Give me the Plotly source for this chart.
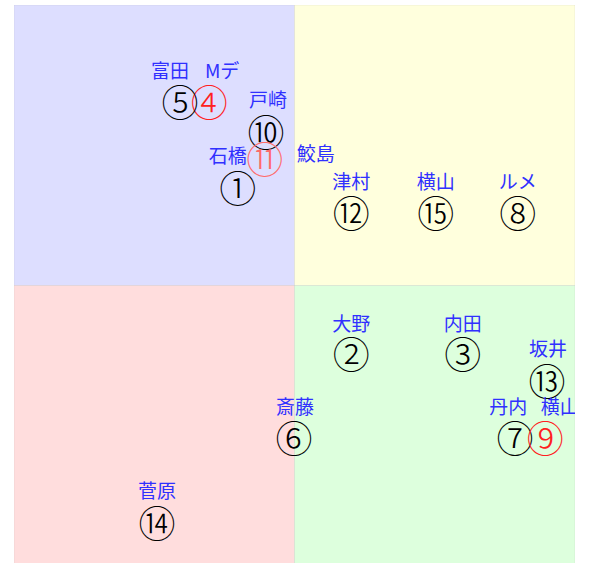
import plotly.graph_objects as go

# 馬番・騎手・位置
numbers = ["①", "②", "③", "④", "⑤", "⑥", "⑦", "⑧", "⑨", "⑩", "⑪", "⑫", "⑬", "⑭", "⑮"]
jockeys = ["石橋", "大野", "内田", "Mデ", "富田", "斎藤", "丹内", "ルメ", "横山", "戸崎", "鮫島", "津村", "坂井", "菅原", "横山"]
pos_x = [39.9, 60.1, 80.0, 34.8, 29.6, 49.9, 89.3, 89.8, 94.7, 44.9, 44.7, 60.1, 95.0, 25.5, 75.2]
pos_y = [66.3, 36.7, 36.7, 81.7, 81.7, 21.8, 21.8, 61.9, 21.8, 76.3, 71.5, 61.9, 31.9, 6.6, 61.9]
label_x = [38.1, 60.1, 80.0, 37.1, 27.8, 50.1, 88.1, 89.8, 97.3, 45.3, 53.8, 60.1, 95.2, 25.5, 75.2]
label_y = [72.6, 42.8, 42.8, 87.9, 87.9, 28.0, 28.0, 68.1, 28.0, 82.6, 73.1, 68.1, 38.2, 12.9, 68.1]
marked = [False, False, False, True, False, False, False, False, True, False, True, False, False, False, False]

num_colors = []
for i, m in enumerate(marked):
    if not m:
        num_colors.append("black")
    elif numbers[i] == "⑪":
        num_colors.append("#ff6a6a")
    else:
        num_colors.append("#ff2020")

fig = go.Figure()

# 4象限の背景
quads = [
    (0, 50, 50, 100, "#dddeff"),
    (50, 100, 50, 100, "#ffffdd"),
    (0, 50, 0, 50, "#ffdddd"),
    (50, 100, 0, 50, "#ddffdd"),
]
for x0, x1, y0, y1, c in quads:
    fig.add_shape(type="rect", x0=x0, x1=x1, y0=y0, y1=y1, fillcolor=c,
                  line=dict(color="rgba(180,180,180,0.35)", width=0.6), layer="below")

fig.add_trace(go.Scatter(
    x=pos_x, y=pos_y, mode="text", text=numbers,
    textfont=dict(family="Noto Sans CJK JP", size=37, color=num_colors, weight=300),
    hoverinfo="skip"
))
fig.add_trace(go.Scatter(
    x=label_x, y=label_y, mode="text", text=jockeys,
    textfont=dict(family="Noto Sans CJK JP", size=19, color="#3030ff"),
    hoverinfo="skip"
))

fig.update_layout(
    width=593, height=563,
    margin=dict(l=14, r=18, t=5, b=0),
    paper_bgcolor="white", plot_bgcolor="white",
    showlegend=False,
    xaxis=dict(range=[0, 100], visible=False, fixedrange=True),
    yaxis=dict(range=[0.53, 100], visible=False, fixedrange=True),
)

fig.write_html("out.html", config={"displayModeBar": False},
               post_script="document.body.style.margin='0';")
